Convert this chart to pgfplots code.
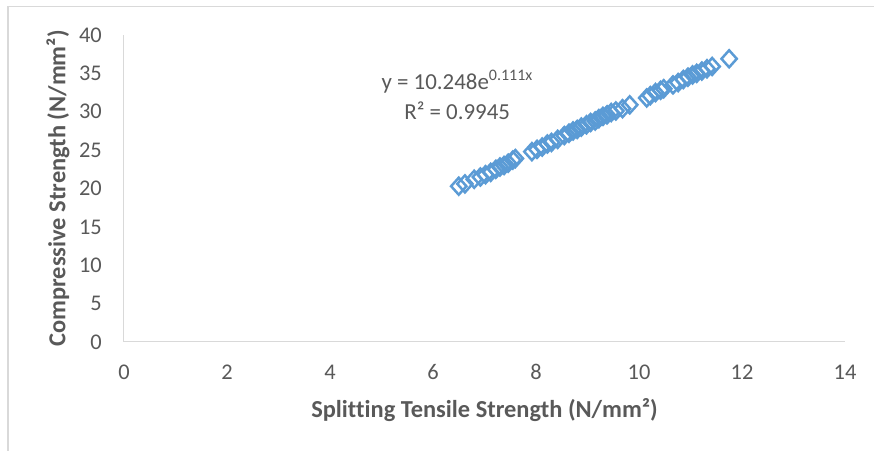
\documentclass[border=0pt]{standalone}
\usepackage{pgfplots}
\pgfplotsset{compat=1.18}
\usepackage{fontspec}
\setmainfont{Carlito}[Ligatures=CommonOff]
\definecolor{txt}{HTML}{595959}
\definecolor{gridc}{HTML}{D9D9D9}
\definecolor{mk}{HTML}{5B9BD5}
\begin{document}
\begin{tikzpicture}[x=1bp,y=1bp]
\useasboundingbox (-124,-109) rectangle (750,342);
\draw[gridc, line width=1.2bp] (-116,-109) -- (-116,335.5) -- (750,335.5);
\begin{axis}[
  at={(0,0)}, anchor=south west,
  scale only axis, width=721bp, height=307bp,
  xmin=0, xmax=14, ymin=0, ymax=40,
  xtick={0,2,...,14}, ytick={0,5,...,40},
  axis lines*=left,
  axis line style={gridc, line width=1bp, -},
  tick style={draw=none},
  /pgf/number format/assume math mode=true,
  tick label style={font=\fontsize{22.5}{24}\selectfont, text=txt, inner sep=0pt},
  yticklabel style={anchor=east, xshift=-22bp},
  xticklabel style={anchor=center, yshift=-30bp},
  xlabel={\textbf{Splitting Tensile Strength (N/mm²)}},
  ylabel={\textbf{Compressive Strength (N/mm²)}},
  xlabel style={font=\fontsize{24.5}{26}\selectfont, text=txt, at={(axis description cs:0.5,-0.221)}, anchor=center},
  ylabel style={font=\fontsize{24.5}{26}\selectfont, text=txt, at={(axis description cs:-0.0915,0.5)}, anchor=center},
  clip=false,
]
\addplot[only marks, mark=diamond, mark size=8.5bp, mark options={draw=mk, line width=2.5bp, fill=none, xscale=1.2}]
coordinates {
(6.50,20.3) (6.62,20.6) (6.80,21.2) (6.92,21.5) (7.02,21.8) (7.12,22.1)
(7.22,22.5) (7.30,22.8) (7.38,23.0) (7.46,23.3) (7.55,23.7) (7.60,23.9)
(7.92,24.8) (8.02,25.1) (8.12,25.4) (8.22,25.8) (8.30,26.0) (8.42,26.4)
(8.55,26.9) (8.64,27.2) (8.72,27.5) (8.80,27.7) (8.88,28.0) (8.98,28.3)
(9.06,28.6) (9.15,28.8) (9.22,29.1) (9.30,29.4) (9.38,29.6) (9.46,29.9)
(9.55,30.1) (9.68,30.4) (9.82,30.9)
(10.15,31.8) (10.22,32.1) (10.32,32.5) (10.42,32.8) (10.48,33.0)
(10.66,33.5) (10.76,33.8) (10.86,34.2) (10.95,34.5) (11.04,34.8)
(11.12,35.0) (11.22,35.3) (11.32,35.6) (11.42,35.9) (11.75,36.9)
};
\node[text=txt, font=\fontsize{23}{30}\selectfont, align=center] at (axis cs:6.47,32.2)
  {y = 10.248e\textsuperscript{0.111x}\\R² = 0.9945};
\end{axis}
\end{tikzpicture}
\end{document}
